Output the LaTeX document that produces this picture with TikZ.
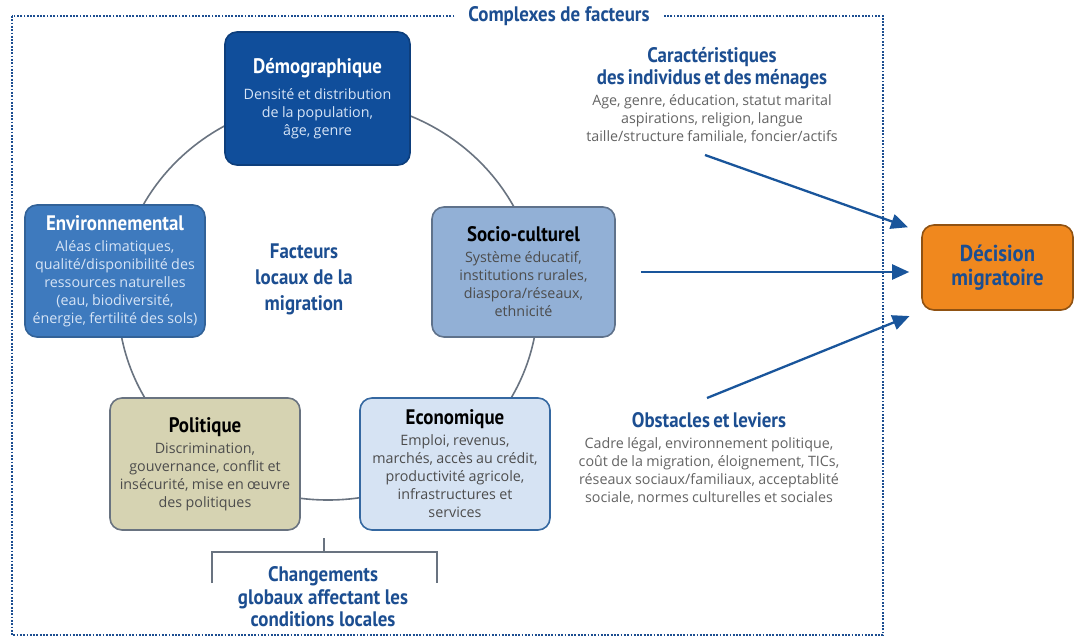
\documentclass[tikz,border=0pt]{standalone}
\usepackage{fontspec}
\setmainfont{Open Sans}
\newfontfamily\condfont[FakeStretch=0.9]{PT Sans}
\usepackage{tikz}
\usetikzlibrary{arrows.meta}

\definecolor{headblue}{RGB}{28,78,145}
\definecolor{bodygray}{RGB}{100,100,100}
\definecolor{paleblue}{RGB}{214,228,246}
\definecolor{demofill}{RGB}{16,78,155}
\definecolor{envifill}{RGB}{62,122,190}
\definecolor{sociofill}{RGB}{146,176,214}
\definecolor{polifill}{RGB}{214,211,178}
\definecolor{econfill}{RGB}{214,227,243}
\definecolor{decifill}{RGB}{240,136,30}
\definecolor{arrowblue}{RGB}{25,85,155}
\definecolor{ringgray}{RGB}{105,115,128}

\newcommand\headf{\condfont\bfseries\fontsize{21}{22}\selectfont}
\newcommand\bodyf[1]{\par\vspace{3pt}\color{#1}\rmfamily\mdseries\fontsize{14.3}{18}\selectfont}

\begin{document}
\begin{tikzpicture}[x=1pt, y=-1pt,
  box/.style={draw, rounded corners=12pt, line width=1.6pt, align=center, inner sep=0pt},
  flow/.style={draw=arrowblue, line width=2.3pt, -{Triangle[length=17pt,width=15pt]}},
  ring/.style={draw=ringgray, line width=1.6pt},
  frame/.style={draw=headblue, line width=2.6pt, dash pattern=on 1.8pt off 1.5pt},
  label/.style={align=center, text=headblue, inner sep=0pt}]

\useasboundingbox[fill=white] (0,0) rectangle (1075,640);

\draw[frame] (12,16) rectangle (883,635);
\node[label, fill=white, inner xsep=12pt, inner ysep=3pt, font=\headf] (cplx) at (559,16) {Complexes de facteurs};

\draw[ring] (328,300) ellipse [x radius=210, y radius=200];

\node[box, fill=demofill, draw=demofill!80!black, text=white, text width=185pt, minimum height=133pt] (demo) at (317.5,98.5)
  {\headf Démographique\par\vspace{5pt}\bodyf{paleblue}Densité et distribution\\de la population,\\âge, genre\par};
\node[box, fill=envifill, draw=envifill!80!black, text=white, text width=180pt, minimum height=132pt] (envi) at (115,271)
  {\headf Environnemental\bodyf{paleblue}Aléas climatiques,\\qualité/disponibilité des\\ressources naturelles\\(eau, biodiversité,\\énergie, fertilité des sols)\par};
\node[box, fill=sociofill, draw=sociofill!65!black, text=black, text width=183pt, minimum height=130pt] (socio) at (523.5,272)
  {\headf Socio-culturel\bodyf{black!70}Système éducatif,\\institutions rurales,\\diaspora/réseaux,\\ethnicité\par};
\node[box, fill=polifill, draw=ringgray, text=black, text width=190pt, minimum height=132pt] (poli) at (205,464)
  {\headf Politique\bodyf{black!70}Discrimination,\\gouvernance, conflit et\\insécurité, mise en œuvre\\des politiques\par};
\node[box, fill=econfill, draw=envifill!85!black, text=black, text width=190pt, minimum height=132pt] (econ) at (455,464)
  {\headf Economique\bodyf{black!70}Emploi, revenus,\\marchés, accès au crédit,\\productivité agricole,\\infrastructures et\\services\par};

\node[label, font=\condfont\bfseries\fontsize{21}{26}\selectfont] (loc) at (304,279) {Facteurs\\locaux de la\\migration};

\node[box, fill=decifill, draw=decifill!60!black, text=headblue, text width=151pt, minimum height=85pt,
  font=\condfont\bfseries\fontsize{23}{24}\selectfont] (deci) at (997.5,267.5) {Décision\\migratoire};

\node[label, text width=300pt] (char) at (712,95)
  {\headf Caractéristiques\\des individus et des ménages\bodyf{bodygray}Age, genre, éducation, statut marital\\aspirations, religion, langue\\taille/structure familiale, foncier/actifs\par};
\node[label, text width=300pt] (obst) at (709,458)
  {\headf Obstacles et leviers\bodyf{bodygray}Cadre légal, environnement politique,\\coût de la migration, éloignement, TICs,\\réseaux sociaux/familiaux, acceptablité\\sociale, normes culturelles et sociales\par};

\node[label, font=\condfont\bfseries\fontsize{21}{22.5}\selectfont] (glob) at (323,597) {Changements\\globaux affectant les\\conditions locales};
\draw[ring] (212,583) -- (212,552) -- (437,552) -- (437,583) (324,552) -- (324,538);

\coordinate (c1) at (705,155);
\coordinate (c3) at (707,398);
\draw[flow, shorten >=14pt] (c1) -- (deci.155);
\draw[flow, shorten <=25pt, shorten >=12pt] (socio.east) -- (socio.east -| deci.west);
\draw[flow, shorten >=14pt] (c3) -- (deci.210);
\end{tikzpicture}
\end{document}
